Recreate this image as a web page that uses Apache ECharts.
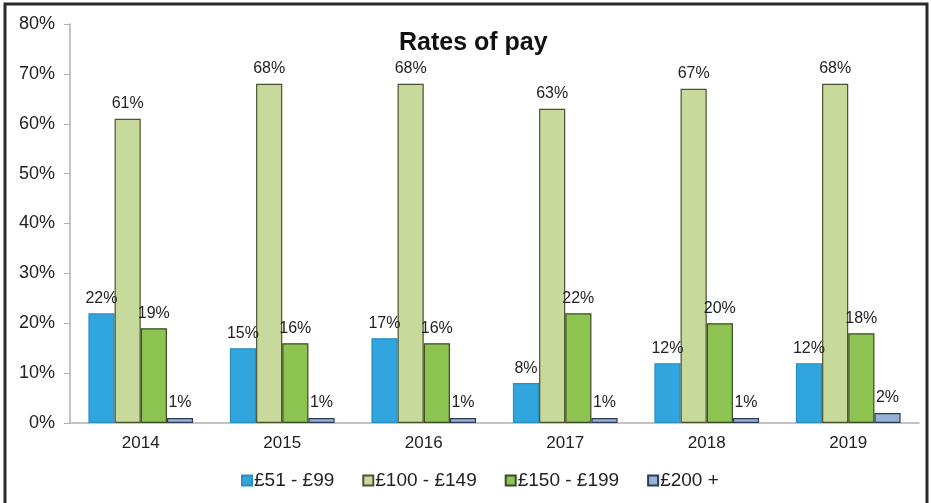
<!DOCTYPE html>
<html>
<head>
<meta charset="utf-8">
<script src="https://cdn.jsdelivr.net/npm/echarts@6/dist/echarts.min.js"></script>
<style>
  html, body { margin: 0; padding: 0; background: #fff; }
  #chart { width: 931px; height: 503px; }
</style>
</head>
<body>
<div id="chart"></div>
<script>
// categories and values
var years = ['2014', '2015', '2016', '2017', '2018', '2019'];
var seriesNames = ['£51 - £99', '£100 - £149', '£150 - £199', '£200 +'];
var pay51to99 = [22, 15, 17, 8, 12, 12];
var pay100to149 = [61, 68, 68, 63, 67, 68];
var pay150to199 = [19, 16, 16, 22, 20, 18];
var pay200plus = [1, 1, 1, 1, 1, 2];

var fills = ['#31a5dd', '#c8d99c', '#8dc451', '#95b3d9'];
var borders = ['#2a8ec0', '#4a5230', '#3a4a22', '#2d3b55'];
var values = [pay51to99, pay100to149, pay150to199, pay200plus];
var font = 'Liberation Sans, Arial, sans-serif';

var chart = echarts.init(document.getElementById('chart'));

var seriesData = [];
for (var i = 0; i < seriesNames.length; i++) {
  seriesData.push({
    name: seriesNames[i],
    type: 'bar',
    barGap: 0,
    barCategoryGap: '26%',
    data: values[i],
    itemStyle: {
      color: fills[i],
      borderColor: borders[i],
      borderWidth: 1.2
    },
    label: {
      show: true,
      position: 'top',
      distance: 7,
      formatter: '{c}%',
      fontFamily: font,
      fontSize: 16,
      color: '#222'
    }
  });
}

var option = {
  animation: false,
  title: {
    text: 'Rates of pay',
    left: 394,
    top: 26,
    textStyle: {
      fontFamily: font,
      fontSize: 25,
      fontWeight: 'bold',
      color: '#111'
    }
  },
  legend: {
    bottom: 8,
    left: 236,
    icon: 'rect',
    itemWidth: 10,
    itemHeight: 10,
    itemGap: 28,
    data: seriesNames,
    textStyle: {
      fontFamily: font,
      fontSize: 19,
      color: '#222',
      padding: [0, 0, 0, -3]
    }
  },
  grid: {
    left: 70,
    right: 12,
    top: 24,
    bottom: 80
  },
  xAxis: {
    type: 'category',
    data: years,
    axisLine: { lineStyle: { color: '#b0b0b0', width: 1.5 } },
    axisTick: { show: false },
    axisLabel: {
      margin: 12,
      fontFamily: font,
      fontSize: 17,
      color: '#222'
    }
  },
  yAxis: {
    type: 'value',
    min: 0,
    max: 80,
    interval: 10,
    axisLine: { show: true, lineStyle: { color: '#b0b0b0', width: 1.5 } },
    axisTick: { show: true, length: 6, lineStyle: { color: '#b0b0b0' } },
    splitLine: { show: false },
    axisLabel: {
      formatter: '{value}%',
      margin: 15,
      fontFamily: font,
      fontSize: 18,
      color: '#222'
    }
  },
  graphic: [{
    type: 'rect',
    shape: { x: 5, y: 4, width: 922, height: 520 },
    style: { fill: 'none', stroke: '#2a2a2a', lineWidth: 3 },
    silent: true
  }],
  series: seriesData
};

chart.setOption(option);
</script>
</body>
</html>
